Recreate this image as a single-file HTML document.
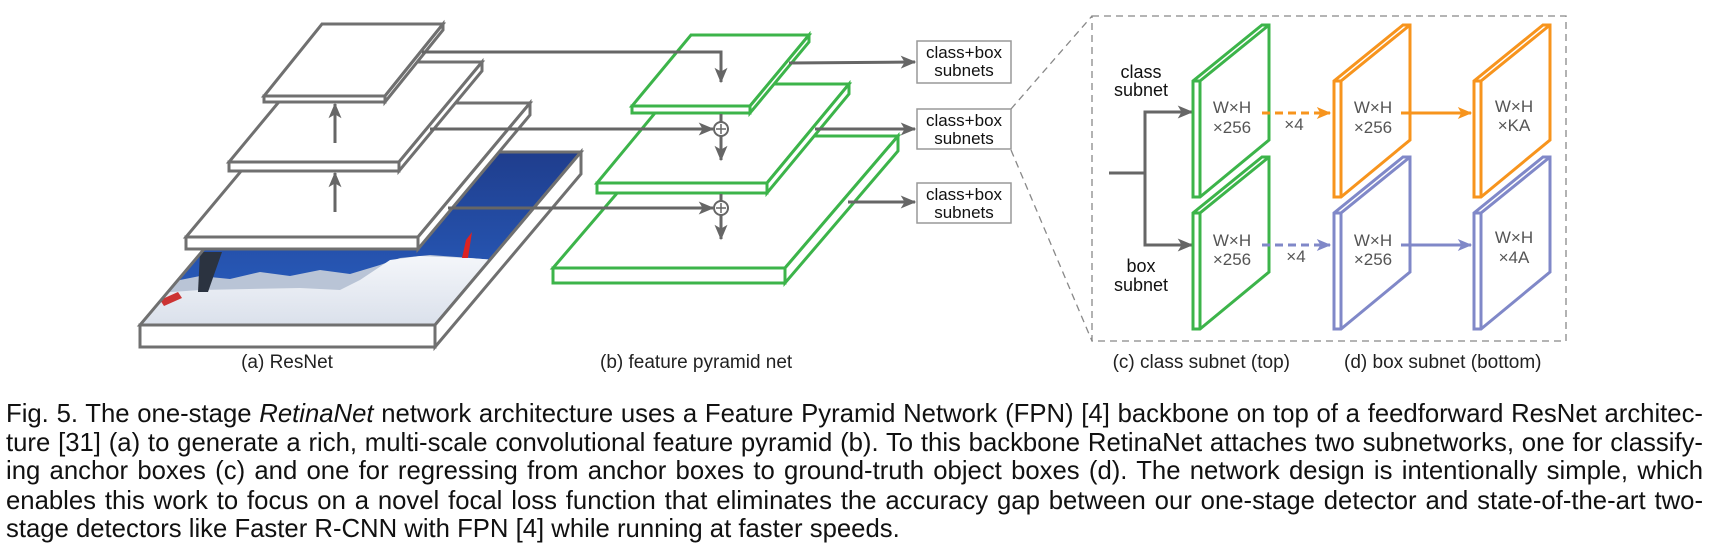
<!DOCTYPE html>
<html><head><meta charset="utf-8">
<style>
html,body{margin:0;padding:0;background:#fff;}
#wrap{position:relative;width:1709px;height:549px;overflow:hidden;}
svg{position:absolute;left:0;top:0;}
.cap{position:absolute;left:6px;width:1697px;font-family:"Liberation Sans",Arial,sans-serif;font-size:25.7px;line-height:29px;color:#111;text-align:justify;text-align-last:justify;white-space:nowrap;}
.cap.last{text-align-last:left;}
</style></head><body><div id="wrap">
<svg width="1709" height="549" viewBox="0 0 1709 549" xmlns="http://www.w3.org/2000/svg">
<defs>
<marker id="agb" viewBox="0 0 12 10" refX="11" refY="5" markerWidth="16" markerHeight="13" markerUnits="userSpaceOnUse" orient="auto"><path d="M0,0 L12,5 L0,10 L3,5 z" fill="#666"/></marker>
<marker id="ao" viewBox="0 0 12 10" refX="11" refY="5" markerWidth="15" markerHeight="12" markerUnits="userSpaceOnUse" orient="auto"><path d="M0,0 L12,5 L0,10 L3,5 z" fill="#f7941d"/></marker>
<marker id="ab" viewBox="0 0 12 10" refX="11" refY="5" markerWidth="15" markerHeight="12" markerUnits="userSpaceOnUse" orient="auto"><path d="M0,0 L12,5 L0,10 L3,5 z" fill="#8088c8"/></marker>
<linearGradient id="sky" x1="0" y1="0" x2="0" y2="1"><stop offset="0" stop-color="#1f3d8c"/><stop offset="1" stop-color="#2a62c6"/></linearGradient>
<linearGradient id="snow" x1="0" y1="0" x2="0" y2="1"><stop offset="0" stop-color="#f4f6fa"/><stop offset="1" stop-color="#d5dce8"/></linearGradient>
<clipPath id="imgclip"><polygon points="286,152 581,152 435,325 140,325"/></clipPath>
</defs>

<g clip-path="url(#imgclip)">
<rect x="130" y="150" width="460" height="180" fill="url(#sky)"/>
<polygon points="130,290 170,282 200,276 230,279 260,272 290,276 320,270 350,274 380,265 400,258 430,255 470,258 520,262 600,262 600,340 130,340" fill="#b9c4d6"/>
<polygon points="130,295 200,290 300,288 340,290 360,280 390,260 420,256 470,258 520,262 600,262 600,340 130,340" fill="url(#snow)"/>
<polygon points="200,252 222,252 208,292 198,292" fill="#2b3340"/>
<polygon points="466,240 472,232 468,258 462,258" fill="#d22"/>
<polygon points="160,300 178,292 182,298 164,306" fill="#c33"/>
</g>
<g fill="#fff" stroke="#707070" stroke-width="3" stroke-linejoin="miter">
<polygon points="286,152 581,152 435,325 140,325" fill="none"/>
<polygon points="140,325 435,325 435,347 140,347"/>
<polygon points="435,325 581,152 581,174 435,347"/>
<polygon points="186,237 418,237 530,103 298,103"/>
<polygon points="186,237 418,237 418,249 186,249"/>
<polygon points="418,237 530,103 530,115 418,249"/>
<polygon points="229,162 399,162 482,62 312,62"/>
<polygon points="229,162 399,162 399,171 229,171"/>
<polygon points="399,162 482,62 482,71 399,171"/>
<polygon points="264,96 385,96 443,24 322,24"/>
<polygon points="264,96 385,96 385,102 264,102"/>
<polygon points="385,96 443,24 443,30 385,102"/>
</g>
<g stroke="#666" stroke-width="3" fill="none">
<line x1="335" y1="143" x2="335" y2="104" marker-end="url(#agb)"/>
<line x1="335" y1="212" x2="335" y2="173" marker-end="url(#agb)"/>
</g>

<g fill="#fff" stroke="#3cb44a" stroke-width="3">
<polygon points="553,268 785,268 898,136 666,136"/>
<polygon points="553,268 785,268 785,283 553,283"/>
<polygon points="785,268 898,136 898,151 785,283"/>
<polygon points="597,183 767,183 849,84 679,84"/>
<polygon points="597,183 767,183 767,193 597,193"/>
<polygon points="767,183 849,84 849,94 767,193"/>
<polygon points="632,106 750,106 809,35 691,35"/>
<polygon points="632,106 750,106 750,113 632,113"/>
<polygon points="750,106 809,35 809,42 750,113"/>
</g>
<g stroke="#666" stroke-width="3" fill="none">
<polyline points="422,52 721,52 721,82" marker-end="url(#agb)"/>
<line x1="430" y1="129" x2="713" y2="129" marker-end="url(#agb)"/>
<line x1="448" y1="208" x2="713" y2="208" marker-end="url(#agb)"/>
<line x1="721" y1="114" x2="721" y2="122"/>
<line x1="721" y1="136" x2="721" y2="160" marker-end="url(#agb)"/>
<line x1="721" y1="194" x2="721" y2="201"/>
<line x1="721" y1="215" x2="721" y2="239" marker-end="url(#agb)"/>
<circle cx="721" cy="129" r="7" fill="#fff" stroke-width="2"/>
<circle cx="721" cy="208" r="7" fill="#fff" stroke-width="2"/>
<line x1="789" y1="63" x2="915" y2="62" marker-end="url(#agb)"/>
<line x1="815" y1="129" x2="915" y2="129" marker-end="url(#agb)"/>
<line x1="848" y1="202" x2="915" y2="202" marker-end="url(#agb)"/>
</g>
<g stroke="#666" stroke-width="1.5">
<line x1="716" y1="129" x2="726" y2="129"/><line x1="721" y1="124" x2="721" y2="134"/>
<line x1="716" y1="208" x2="726" y2="208"/><line x1="721" y1="203" x2="721" y2="213"/>
</g>

<g fill="#fff" stroke="#999" stroke-width="1.5">
<rect x="917" y="41" width="94" height="42"/>
<rect x="917" y="109" width="94" height="40"/>
<rect x="917" y="183" width="94" height="40"/>
</g>
<g font-family="Liberation Sans, Arial, sans-serif" font-size="17" fill="#111" text-anchor="middle">
<text x="964" y="58">class+box</text><text x="964" y="76">subnets</text>
<text x="964" y="126">class+box</text><text x="964" y="144">subnets</text>
<text x="964" y="200">class+box</text><text x="964" y="218">subnets</text>
</g>

<g stroke="#888" stroke-width="1.3" fill="none" stroke-dasharray="7,5">
<rect x="1092" y="16" width="474" height="325"/>
<line x1="1011" y1="109" x2="1092" y2="16"/>
<line x1="1011" y1="150" x2="1092" y2="341"/>
</g>

<g stroke="#666" stroke-width="3" fill="none">
<line x1="1109" y1="173" x2="1145" y2="173"/>
<polyline points="1190,112 1145,112 1145,245 1190,245" />
<line x1="1160" y1="112" x2="1192" y2="112" marker-end="url(#agb)"/>
<line x1="1160" y1="245" x2="1192" y2="245" marker-end="url(#agb)"/>
</g>
<g font-family="Liberation Sans, Arial, sans-serif" font-size="18" fill="#111" text-anchor="middle">
<text x="1141" y="78">class</text><text x="1141" y="96">subnet</text>
<text x="1141" y="272">box</text><text x="1141" y="291">subnet</text>
</g>

<g fill="#fff" stroke-width="3" stroke-linejoin="miter">
<g stroke="#3cb44a">
<polygon points="1193,197 1193,81 1262,25 1269,25 1269,140 1200,197"/><polyline points="1200,197 1200,81 1269,25" fill="none"/><line x1="1193" y1="81" x2="1200" y2="81"/>
<polygon points="1193,329 1193,213 1262,157 1269,157 1269,272 1200,329"/><polyline points="1200,329 1200,213 1269,157" fill="none"/><line x1="1193" y1="213" x2="1200" y2="213"/>
</g>
<g stroke="#f7941d">
<polygon points="1334,197 1334,81 1403,25 1410,25 1410,140 1341,197"/><polyline points="1341,197 1341,81 1410,25" fill="none"/><line x1="1334" y1="81" x2="1341" y2="81"/>
<polygon points="1474,197 1474,81 1543,25 1550,25 1550,140 1481,197"/><polyline points="1481,197 1481,81 1550,25" fill="none"/><line x1="1474" y1="81" x2="1481" y2="81"/>
</g>
<g stroke="#8088c8">
<polygon points="1334,329 1334,213 1403,157 1410,157 1410,272 1341,329"/><polyline points="1341,329 1341,213 1410,157" fill="none"/><line x1="1334" y1="213" x2="1341" y2="213"/>
<polygon points="1474,329 1474,213 1543,157 1550,157 1550,272 1481,329"/><polyline points="1481,329 1481,213 1550,157" fill="none"/><line x1="1474" y1="213" x2="1481" y2="213"/>
</g>
</g>
<g stroke-width="3" fill="none">
<line x1="1262" y1="113" x2="1330" y2="113" stroke="#f7941d" stroke-dasharray="8,5" marker-end="url(#ao)"/>
<line x1="1401" y1="113" x2="1471" y2="113" stroke="#f7941d" marker-end="url(#ao)"/>
<line x1="1262" y1="245" x2="1330" y2="245" stroke="#8088c8" stroke-dasharray="8,5" marker-end="url(#ab)"/>
<line x1="1401" y1="245" x2="1471" y2="245" stroke="#8088c8" marker-end="url(#ab)"/>
</g>
<g font-family="Liberation Sans, Arial, sans-serif" font-size="17" fill="#555" text-anchor="middle">
<text x="1232" y="113">W×H</text><text x="1232" y="133">×256</text>
<text x="1232" y="246">W×H</text><text x="1232" y="265">×256</text>
<text x="1373" y="113">W×H</text><text x="1373" y="133">×256</text>
<text x="1373" y="246">W×H</text><text x="1373" y="265">×256</text>
<text x="1514" y="112">W×H</text><text x="1514" y="131">×KA</text>
<text x="1514" y="243">W×H</text><text x="1514" y="263">×4A</text>
<text x="1294" y="130">×4</text><text x="1296" y="262">×4</text>
</g>

<g font-family="Liberation Sans, Arial, sans-serif" font-size="19" fill="#222">
<text x="287" y="368" text-anchor="middle">(a) ResNet</text>
<text x="600" y="368">(b) feature pyramid net</text>
<text x="1290" y="368" text-anchor="end">(c) class subnet (top)</text>
<text x="1344" y="368">(d) box subnet (bottom)</text>
</g>
</svg>
<div class="cap" style="top:400px">Fig. 5. The one-stage <i>RetinaNet</i> network architecture uses a Feature Pyramid Network (FPN) [4] backbone on top of a feedforward ResNet architec-</div>
<div class="cap" style="top:429px">ture [31] (a) to generate a rich, multi-scale convolutional feature pyramid (b). To this backbone RetinaNet attaches two subnetworks, one for classify-</div>
<div class="cap" style="top:457px">ing anchor boxes (c) and one for regressing from anchor boxes to ground-truth object boxes (d). The network design is intentionally simple, which</div>
<div class="cap" style="top:487px">enables this work to focus on a novel focal loss function that eliminates the accuracy gap between our one-stage detector and state-of-the-art two-</div>
<div class="cap last" style="top:515px">stage detectors like Faster R-CNN with FPN [4] while running at faster speeds.</div>
</div></body></html>
